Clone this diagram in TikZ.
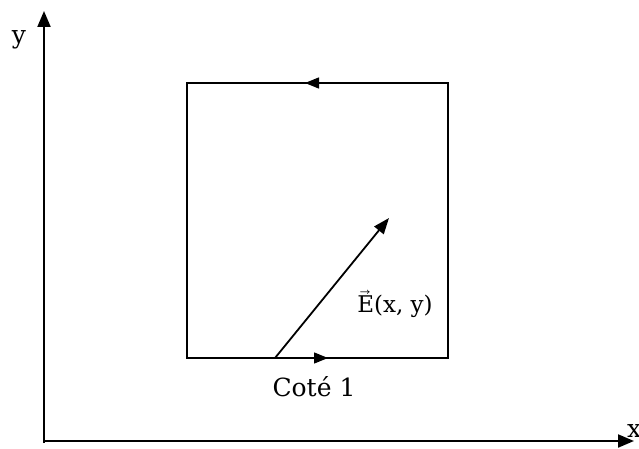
\documentclass[tikz,border=0pt]{standalone}
\usepackage{amsmath}
\usepackage{unicode-math}
\setmainfont{DejaVu Serif}
\usetikzlibrary{arrows.meta}
\tikzset{
  axis/.style={line width=2pt,-{Triangle[length=16pt,width=13pt]}},
  side/.style={line width=1.4pt},
  midarrow/.style={line width=1.4pt,-{Triangle[length=14pt,width=11pt]}},
  vect/.style={line width=1.8pt,-{Triangle[length=16pt,width=12pt]}},
  lbl/.style={inner sep=0pt,font={\fontsize{25}{30}\selectfont}},
  elbl/.style={inner sep=0pt,font={\fontsize{23}{28}\selectfont}}
}
\begin{document}
\begin{tikzpicture}[x=1pt,y=-1pt]
\useasboundingbox (0,0) rectangle (639,449);
\coordinate (O) at (44,441);
\coordinate (Ob) at (44,443);
\coordinate (Y) at (44,11);
\coordinate (X) at (634,441);
\draw[axis] (Ob) -- (Y);
\draw[axis] (O) -- (X);
\node[lbl] (ylab) at (19,40) {y};
\node[lbl,anchor=west] (xlab) at (627,431) {x};
% loop
\coordinate (A) at (187,358);
\coordinate (B) at (448,358);
\coordinate (C) at (448,83);
\coordinate (D) at (187,83);
\draw[side] (A) -- (B) -- (C) -- (D) -- cycle;
\coordinate (t1) at (328,83);
\coordinate (t2) at (305,83);
\draw[midarrow] (t1) -- (t2);
\coordinate (b1) at (304,358);
\coordinate (b2) at (328,358);
\draw[midarrow] (b1) -- (b2);
% vector E
\coordinate (E0) at (275,358);
\coordinate (E1) at (389,218);
\draw[vect] (E0) -- (E1);
\node[elbl] (elab) at (395,304) {$\vec{\text{E}}$(x, y)};
\node[lbl] (cote) at (314,387) {Coté 1};
\end{tikzpicture}
\end{document}
